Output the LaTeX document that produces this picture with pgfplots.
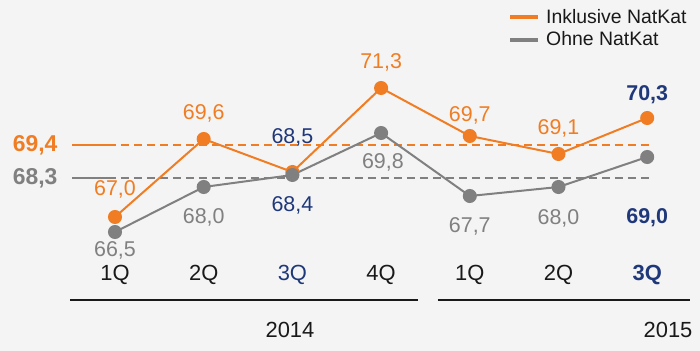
\documentclass[border=0pt]{standalone}
\usepackage{pgfplots}
\pgfplotsset{compat=1.18}
\usepackage{fontspec}
\setmainfont{Liberation Sans}
\definecolor{bg}{RGB}{244,244,244}
\definecolor{org}{RGB}{240,125,35}
\definecolor{gry}{RGB}{128,128,128}
\definecolor{blu}{RGB}{31,56,122}
\definecolor{txt}{RGB}{25,25,25}
\begin{document}
\begin{tikzpicture}
\fill[bg] (0,0) rectangle (700bp,351bp);
\begin{axis}[
 scale only axis, width=700bp, height=351bp,
 xmin=-1.2965, xmax=6.5953, ymin=62.5333, ymax=74.2333,
 axis line style={draw=none}, tick style={draw=none},
 ytick=\empty,
 xtick={0,...,6},
 xticklabels={1Q,2Q,\textcolor{blu}{3Q},4Q,1Q,2Q,\textcolor{blu}{\bfseries 3Q}},
 xticklabel style={anchor=center, yshift=76bp, font=\fontsize{22}{26}\selectfont, text=txt},
 clip=false,
 legend style={at={(rel axis cs:0.7257,0.9743)}, anchor=north west, draw=none, fill=none,
   font=\fontsize{19.5}{21}\selectfont, inner sep=0pt, row sep=7bp, column sep=0bp,
   nodes={inner sep=0pt, text=txt}},
 legend cell align=left,
 legend image code/.code={\draw[#1, line width=4bp] (0bp,0bp) -- (28bp,0bp); \path (35bp,0bp);},
]
% reference levels
\addplot[org, line width=2bp, forget plot] coordinates {(-0.485,69.4)(-0.079,69.4)};
\addplot[org, line width=2bp, dash pattern=on 8bp off 5bp, forget plot] coordinates {(-0.079,69.4)(6.054,69.4)};
\addplot[gry, line width=2bp, forget plot] coordinates {(-0.485,68.3)(-0.079,68.3)};
\addplot[gry, line width=2bp, dash pattern=on 8bp off 5bp, forget plot] coordinates {(-0.079,68.3)(6.054,68.3)};
% baselines
\addplot[txt, line width=1.2bp, forget plot] coordinates {(-0.507,64.233)(3.416,64.233)};
\addplot[txt, line width=1.2bp, forget plot] coordinates {(3.641,64.233)(6.483,64.233)};
% series
\addplot[org, line width=2bp, mark=*, mark size=6bp, mark options={solid, fill=org, draw=org}]
 coordinates {(0,67.0)(1,69.6)(2,68.5)(3,71.3)(4,69.7)(5,69.1)(6,70.3)};
\addlegendentry{Inklusive NatKat}
\addplot[gry, line width=2bp, mark=*, mark size=6bp, mark options={solid, fill=gry, draw=gry}]
 coordinates {(0,66.5)(1,68.0)(2,68.4)(3,69.8)(4,67.7)(5,68.0)(6,69.0)};
\addlegendentry{Ohne NatKat}
% left level labels
\node[anchor=east, text=org, font=\fontsize{23}{26}\selectfont\bfseries] at (axis cs:-0.6088,69.4) {69,4};
\node[anchor=east, text=gry, font=\fontsize{23}{26}\selectfont\bfseries] at (axis cs:-0.6088,68.3) {68,3};
% orange data labels
\begin{scope}[every node/.style={font=\fontsize{21.5}{26}\selectfont, text=org}]
\node at (axis cs:0,67.9333) {67,0};
\node at (axis cs:1,70.4667) {69,6};
\node[text=blu] at (axis cs:2,69.6667) {68,5};
\node at (axis cs:3,72.1667) {71,3};
\node at (axis cs:4,70.4) {69,7};
\node at (axis cs:5,69.9667) {69,1};
\node[text=blu, font=\fontsize{21.5}{26}\selectfont\bfseries] at (axis cs:6,71.0667) {70,3};
\end{scope}
% gray data labels
\begin{scope}[every node/.style={font=\fontsize{21.5}{26}\selectfont, text=gry}]
\node at (axis cs:0,65.9) {66,5};
\node at (axis cs:1,67.0) {68,0};
\node[text=blu] at (axis cs:2,67.4) {68,4};
\node at (axis cs:3.02,68.8333) {69,8};
\node at (axis cs:4,66.7) {67,7};
\node at (axis cs:5,66.9667) {68,0};
\node[text=blu, font=\fontsize{21.5}{26}\selectfont\bfseries] at (axis cs:6,66.9667) {69,0};
\end{scope}
% years
\node[font=\fontsize{22}{26}\selectfont, text=txt] at (axis cs:1.973,63.233) {2014};
\node[font=\fontsize{22}{26}\selectfont, text=txt] at (axis cs:6.235,63.233) {2015};
\end{axis}
\end{tikzpicture}
\end{document}
